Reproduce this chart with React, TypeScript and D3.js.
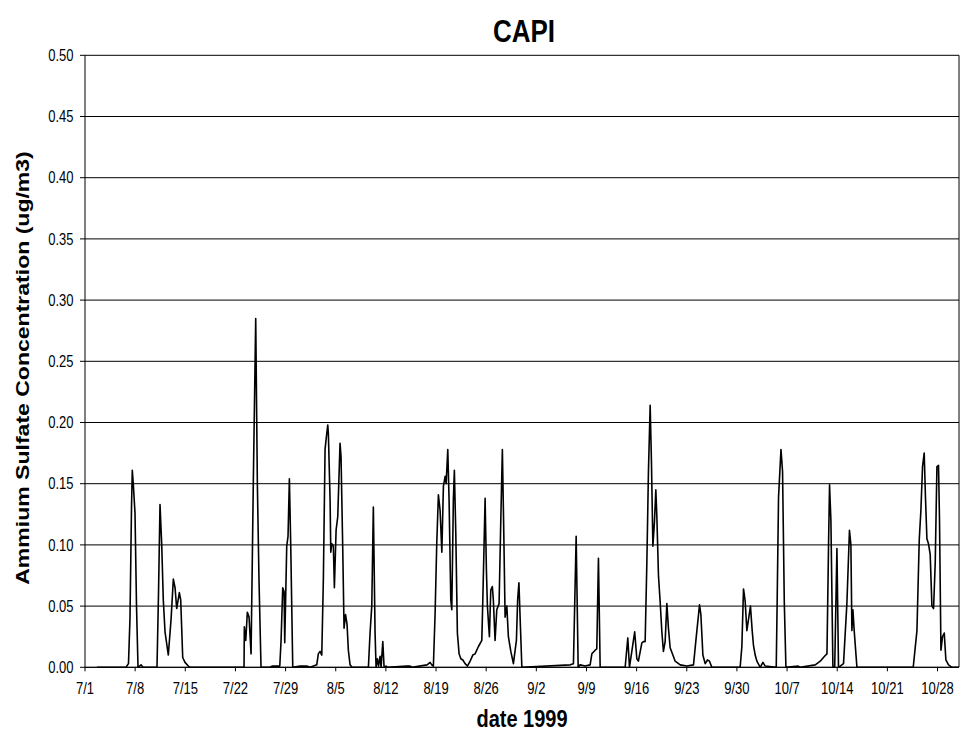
import React from 'react';
import * as d3 from 'd3';

// Chart text
const chartTitle = 'CAPI';
const xAxisTitle = 'date 1999';
const yAxisTitle = 'Ammium Sulfate Concentration (ug/m3)';

// Weekly date ticks (days since July 1, 1999) and their labels
const dateTickDays = [0, 7, 14, 21, 28, 35, 42, 49, 56, 63, 70, 77, 84, 91, 98, 105, 112, 119];
const dateTickLabels = ['7/1', '7/8', '7/15', '7/22', '7/29', '8/5', '8/12', '8/19', '8/26', '9/2', '9/9', '9/16', '9/23', '9/30', '10/7', '10/14', '10/21', '10/28'];

// Concentration ticks (ug/m3)
const concTicks = [0, 0.05, 0.1, 0.15, 0.2, 0.25, 0.3, 0.35, 0.4, 0.45, 0.5];

// Measurement times (days since July 1, 1999)
const readingDays = [
  1.68, 5.72, 6.07, 6.28, 6.49, 6.6, 6.74, 6.98, 7.19, 7.4, 7.82, 8.1,
  10.05, 10.26, 10.47, 10.71, 10.93, 11.17, 11.63, 12.01, 12.33, 12.57, 12.8, 13.17, 13.36, 13.64, 13.96, 14.42, 14.66,
  22.2, 22.24, 22.44, 22.66, 22.9, 23.18, 23.5, 23.83, 24.06, 24.29, 24.57,
  25.83, 26.11, 27.19, 27.37, 27.6, 27.79, 27.88, 28.16, 28.34, 28.53, 28.72, 29.0,
  30.02, 30.96, 31.42, 32.35, 32.57, 32.81, 33.05, 33.27, 33.51, 33.65, 33.89, 33.97, 34.21, 34.31, 34.45, 34.67, 34.81,
  35.05, 35.28, 35.6, 35.74, 35.98, 36.16, 36.37, 36.58, 36.76, 37.0, 37.28,
  39.56, 39.79, 40.03, 40.25, 40.49, 40.63, 40.81, 40.98, 41.19, 41.33, 41.57, 41.75, 42.03, 42.2,
  44.92, 45.38, 45.66, 47.75, 48.17, 48.41, 48.63, 48.87, 49.1, 49.33, 49.57, 49.81, 50.03, 50.27, 50.41, 50.64, 50.82,
  51.06, 51.2, 51.42, 51.56, 51.76, 51.98, 52.22, 52.46, 52.74, 53.06, 53.38, 53.76, 54.13, 54.45, 54.92, 55.39,
  55.53, 55.85, 56.03, 56.17, 56.45, 56.64, 56.86, 57.0, 57.24, 57.48, 57.8, 58.04, 58.26, 58.43, 58.64, 58.88,
  59.1, 59.44, 59.8, 60.22, 60.39, 60.57, 60.77, 60.98,
  67.72, 68.18, 68.56, 68.84, 69.11, 69.81, 70.51, 70.75, 71.21, 71.44, 71.67, 71.91,
  75.4, 75.77, 76.0, 76.33, 76.73, 77.03, 77.25, 77.73, 77.95, 78.19, 78.43, 78.65, 78.89, 79.07, 79.27, 79.49,
  79.68, 79.82, 80.05, 80.28, 80.52, 80.74, 80.98, 81.22, 81.44, 81.68, 82.06, 82.38, 83.08, 84.01, 84.94,
  85.31, 85.78, 85.97, 86.25, 86.57, 86.89, 87.17, 87.5,
  91.45, 91.69, 91.92, 92.15, 92.39, 92.89, 93.13, 93.31, 93.55, 93.79, 94.25, 94.63, 94.95,
  96.49, 96.63, 96.81, 97.15, 97.37, 97.61, 97.84, 99.55, 99.83,
  101.93, 102.63, 103.23, 103.57, 103.8, 103.93, 104.12, 104.4, 104.65, 104.96, 105.18, 105.42, 105.88,
  106.35, 106.71, 106.91, 107.05, 107.19, 107.37, 107.75,
  115.61, 116.13, 116.45, 116.68, 116.91, 117.14, 117.32, 117.52, 117.74, 117.98, 118.22, 118.45, 118.68,
  118.92, 119.14, 119.28, 119.48, 119.7, 119.94, 120.17, 120.54, 121.01, 122.0,
];

// Ammonium sulfate concentration at each measurement time (ug/m3)
const readingConc = [
  0, 0, 0.003, 0.04, 0.13, 0.161, 0.15, 0.126, 0.05, 0, 0.002, 0,
  0, 0.06, 0.133, 0.1, 0.055, 0.029, 0.01, 0.039, 0.072, 0.065, 0.048, 0.061, 0.055, 0.008, 0.004, 0.001, 0,
  0, 0.033, 0.022, 0.045, 0.041, 0.011, 0.153, 0.285, 0.15, 0.071, 0,
  0, 0.001, 0.001, 0.022, 0.065, 0.062, 0.02, 0.099, 0.107, 0.154, 0.099, 0,
  0.001, 0.001, 0, 0.002, 0.011, 0.013, 0.01, 0.071, 0.178, 0.186, 0.198, 0.191, 0.137, 0.094, 0.101, 0.099, 0.065,
  0.112, 0.123, 0.183, 0.172, 0.096, 0.032, 0.043, 0.035, 0.014, 0.002, 0,
  0, 0.028, 0.05, 0.131, 0.028, 0, 0.007, 0.001, 0.009, 0, 0.021, 0, 0.001, 0,
  0.001, 0.001, 0, 0.002, 0.004, 0.002, 0.001, 0.044, 0.101, 0.141, 0.128, 0.094, 0.148, 0.156, 0.15, 0.178, 0.137,
  0.055, 0.047, 0.137, 0.161, 0.109, 0.028, 0.011, 0.007, 0.006, 0.003, 0.001, 0.005, 0.01, 0.011, 0.017, 0.022,
  0.055, 0.138, 0.08, 0.05, 0.025, 0.063, 0.066, 0.055, 0.022, 0.047, 0.052, 0.12, 0.178, 0.12, 0.041, 0.05,
  0.025, 0.013, 0.003, 0.022, 0.055, 0.069, 0.035, 0,
  0.002, 0.003, 0.107, 0, 0.002, 0.001, 0.002, 0.011, 0.014, 0.015, 0.089, 0,
  0, 0.024, 0, 0.013, 0.029, 0.007, 0.005, 0.02, 0.021, 0.021, 0.086, 0.16, 0.214, 0.168, 0.099, 0.119,
  0.145, 0.124, 0.075, 0.054, 0.029, 0.013, 0.021, 0.052, 0.032, 0.016, 0.01, 0.005, 0.002, 0.001, 0.002,
  0.024, 0.051, 0.043, 0.01, 0.003, 0.006, 0.005, 0,
  0, 0.017, 0.064, 0.054, 0.03, 0.05, 0.03, 0.018, 0.01, 0.005, 0, 0.004, 0.001,
  0, 0.059, 0.139, 0.178, 0.16, 0.054, 0, 0.001, 0,
  0.002, 0.005, 0.009, 0.011, 0.104, 0.149, 0.12, 0, 0, 0.097, 0, 0.001, 0.003,
  0.052, 0.112, 0.1, 0.03, 0.047, 0.03, 0,
  0, 0.03, 0.104, 0.128, 0.164, 0.175, 0.139, 0.105, 0.101, 0.092, 0.05, 0.048, 0.085,
  0.164, 0.165, 0.12, 0.014, 0.025, 0.028, 0.006, 0.002, 0, 0,
];

const WIDTH = 963;
const HEIGHT = 733;
const plot = { left: 85, right: 959, top: 55.3, bottom: 667.3 };
const VSTRETCH = 1.2;
const FONT = 'Arial, "Liberation Sans", Helvetica, sans-serif';

export default function App() {
  const x = d3.scaleLinear().domain([0, 122]).range([plot.left, plot.right]);
  const y = d3.scaleLinear().domain([0, 0.5]).range([plot.bottom, plot.top]);

  const points: [number, number][] = readingDays.map((d, i) => [d, readingConc[i]]);
  const linePath = d3
    .line<[number, number]>()
    .x((p) => x(p[0]))
    .y((p) => y(p[1]))(points) as string;

  return (
    <svg
      width={WIDTH}
      height={HEIGHT}
      style={{ position: 'fixed', left: 0, top: 0, background: '#fff' }}
      fontFamily={FONT}
    >
      <rect x={0} y={0} width={WIDTH} height={HEIGHT} fill="#fff" />

      {/* horizontal gridlines */}
      {concTicks.map((t) => (
        <line key={`g${t}`} x1={plot.left} x2={plot.right} y1={y(t)} y2={y(t)} stroke="#000" strokeWidth={1} />
      ))}
      {/* right edge of plot area */}
      <line x1={plot.right} x2={plot.right} y1={plot.top} y2={plot.bottom} stroke="#000" strokeWidth={1} />

      {/* y axis */}
      <line x1={plot.left} x2={plot.left} y1={plot.top} y2={plot.bottom} stroke="#000" strokeWidth={1} />
      {concTicks.map((t) => (
        <g key={`yt${t}`}>
          <line x1={plot.left - 5} x2={plot.left} y1={y(t)} y2={y(t)} stroke="#000" strokeWidth={1} />
          <text
            transform={`translate(73.5,${y(t) + 5.6}) scale(1,${VSTRETCH})`}
            textAnchor="end"
            fontSize={13}
            fill="#000"
          >
            {t.toFixed(2)}
          </text>
        </g>
      ))}

      {/* x axis */}
      <line x1={plot.left} x2={plot.right} y1={plot.bottom} y2={plot.bottom} stroke="#000" strokeWidth={1} />
      {dateTickDays.map((d, i) => (
        <g key={`xt${d}`}>
          <line x1={x(d)} x2={x(d)} y1={plot.bottom} y2={plot.bottom + 4} stroke="#000" strokeWidth={1} />
          <text
            transform={`translate(${x(d)},693.6) scale(1,${VSTRETCH})`}
            textAnchor="middle"
            fontSize={13}
            fill="#000"
          >
            {dateTickLabels[i]}
          </text>
        </g>
      ))}

      {/* concentration series */}
      <path d={linePath} fill="none" stroke="#000" strokeWidth={1.6} strokeLinejoin="round" />

      {/* titles */}
      <text
        transform={`translate(524,41.5) scale(1,${VSTRETCH})`}
        textAnchor="middle"
        fontSize={26}
        fontWeight="bold"
        fill="#000"
      >
        {chartTitle}
      </text>
      <text
        transform={`translate(522,726.5) scale(1,${VSTRETCH})`}
        textAnchor="middle"
        fontSize={20}
        fontWeight="bold"
        fill="#000"
      >
        {xAxisTitle}
      </text>
      <text
        transform={`translate(28.5,368) scale(1,${VSTRETCH}) rotate(-90)`}
        textAnchor="middle"
        fontSize={19.2}
        fontWeight="bold"
        fill="#000"
      >
        {yAxisTitle}
      </text>
    </svg>
  );
}
